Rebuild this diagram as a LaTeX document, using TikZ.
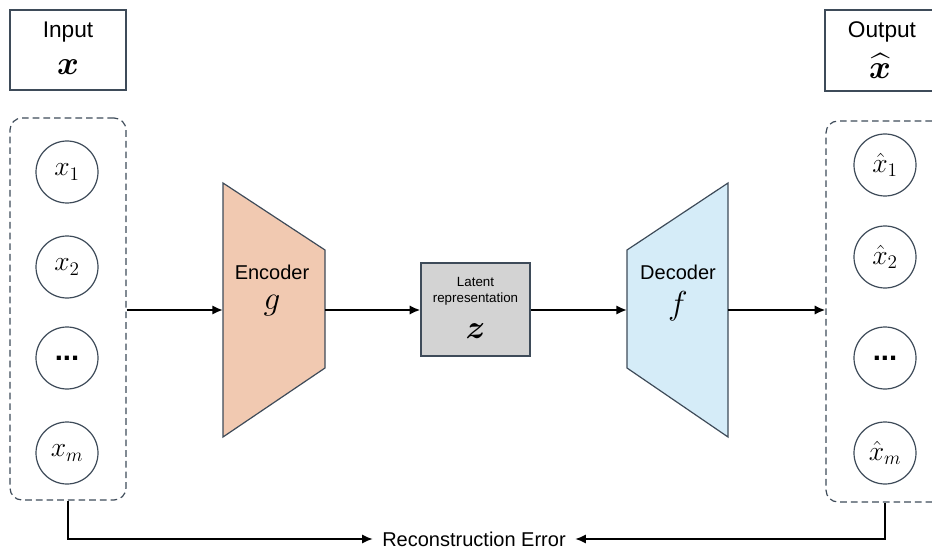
\documentclass[tikz,border=0pt]{standalone}
\usepackage{fontspec}
\setmainfont{Liberation Sans}
\usepackage{amsmath}
\usepackage{bm}
\usetikzlibrary{arrows.meta}
\definecolor{edgegray}{HTML}{3E4B59}
\definecolor{encfill}{HTML}{F1C9B1}
\definecolor{latfill}{HTML}{D3D3D3}
\definecolor{decfill}{HTML}{D5ECF8}
\tikzset{>={Latex[length=8pt,width=7pt]}}
\tikzset{
  unit/.style={circle,draw=edgegray,line width=0.9pt,minimum size=46.5pt,inner sep=0pt,
    font=\fontsize{22}{26}\selectfont},
  group/.style={draw=edgegray,line width=0.9pt,dash pattern=on 5pt off 3pt,
    rounded corners=9pt,inner sep=0pt},
  iobox/.style={draw=edgegray,line width=1.3pt,minimum width=87pt,minimum height=60pt,inner sep=0pt},
  flow/.style={->,line width=1.9pt},
  errflow/.style={->,line width=1.3pt}
}

\begin{document}
\begin{tikzpicture}[x=0.75pt,y=-0.75pt]
            \useasboundingbox (0,0) rectangle (932,549);
            % input and output boxes
            \node[iobox] (inbox) at (68,50) {};
            \node[font=\fontsize{17}{19}\selectfont,inner sep=1pt] (intext) at (68,32) {Input};
            \node[font=\fontsize{30}{32}\selectfont,inner sep=1pt] (invar) at (68,67) {$\bm{x}$};
            \node[iobox,minimum width=86.25pt,minimum height=60.75pt] (outbox) at (882.5,50.5) {};
            \node[font=\fontsize{17}{19}\selectfont,inner sep=1pt] (outtext) at (882,32) {Output};
            \node[font=\fontsize{30}{32}\selectfont,inner sep=0pt] (outvar) at (880,66) {$\widehat{\bm{x}}$};
            % dashed groups
            \node[group,minimum width=87pt,minimum height=286.5pt] (ingroup) at (68,309) {};
            \node[group,minimum width=88.5pt,minimum height=285.75pt] (outgroup) at (885,311.5) {};
            \node[unit] (x1) at (67,172) {$x_1$};
            \node[unit] (x2) at (67,267) {$x_2$};
            \node[unit] (x3) at (67,358) {\textbf{...}};
            \node[unit] (xm) at (67,453) {$x_m$};
            \node[unit] (y1) at (885,165) {$\hat{x}_1$};
            \node[unit] (y2) at (885,257) {$\hat{x}_2$};
            \node[unit] (y3) at (885,358) {\textbf{...}};
            \node[unit] (ym) at (885,453) {$\hat{x}_m$};
            % encoder
            \filldraw[fill=encfill,draw=edgegray,line width=0.9pt]
              (223,183) -- (325,250) -- (325,368) -- (223,437) -- cycle;
            \coordinate (encin) at (223,310);
            \coordinate (encout) at (325,310);
            \node[font=\fontsize{15}{17}\selectfont] (enctext) at (272,272) {Encoder};
            \node[font=\fontsize{28}{30}\selectfont] (encvar) at (272,306) {$g$};
            % latent
            \node[draw=edgegray,fill=latfill,line width=0.9pt,minimum width=81.75pt,
              minimum height=69.75pt,inner sep=0pt] (latent) at (475.5,309.5) {};
            \node[font=\fontsize{10}{12}\selectfont,align=center] (lattext) at (475.5,291)
              {Latent\\representation};
            \node[font=\fontsize{28}{30}\selectfont] (latvar) at (475.5,331) {$\bm{z}$};
            % decoder
            \filldraw[fill=decfill,draw=edgegray,line width=0.9pt]
              (627,250) -- (728,183) -- (728,437) -- (627,368) -- cycle;
            \coordinate (decin) at (627,310);
            \coordinate (decout) at (728,310);
            \node[font=\fontsize{15}{17}\selectfont] (dectext) at (678,272) {Decoder};
            \node[font=\fontsize{28}{30}\selectfont] (decvar) at (678,306) {$f$};
            % flow
            \draw[flow] (ingroup.east |- encin) -- (encin);
            \draw[flow] (encout) -- (latent.west |- encout);
            \draw[flow] (latent.east |- decin) -- (decin);
            \draw[flow] (decout) -- (outgroup.west |- decout);
            % reconstruction error
            \node[font=\fontsize{15}{17}\selectfont,inner xsep=7pt,inner ysep=1pt] (err) at (474,539) {Reconstruction Error};
            \draw[errflow] (ingroup.south) |- (err.west);
            \draw[errflow] (outgroup.south) |- (err.east);
        \end{tikzpicture}
\end{document}
